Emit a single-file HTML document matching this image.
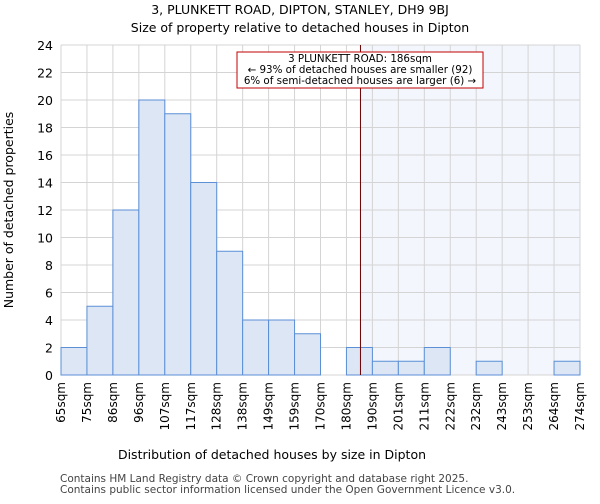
<!DOCTYPE html>
<html><head><meta charset="utf-8"><style>
body{margin:0;background:#fff;font-family:"DejaVu Sans","Liberation Sans",sans-serif}
</style></head><body>
<svg id="c" width="600" height="500" xmlns="http://www.w3.org/2000/svg" font-family="DejaVu Sans, Liberation Sans, sans-serif">
<text x="300" y="14" text-anchor="middle" font-size="12.5">3, PLUNKETT ROAD, DIPTON, STANLEY, DH9 9BJ</text>
<text x="300" y="32" text-anchor="middle" font-size="12.5">Size of property relative to detached houses in Dipton</text>
<g id="plot"></g>
<text x="272" y="459" text-anchor="middle" font-size="12.5">Distribution of detached houses by size in Dipton</text>
<text transform="translate(13,210) rotate(-90)" text-anchor="middle" font-size="12.5">Number of detached properties</text>
<text x="60" y="482" font-size="10.5" fill="#444">Contains HM Land Registry data © Crown copyright and database right 2025.</text>
<text x="60" y="493" font-size="10.5" fill="#444">Contains public sector information licensed under the Open Government Licence v3.0.</text>
</svg>
<script>
const categories=["65sqm","75sqm","86sqm","96sqm","107sqm","117sqm","128sqm","138sqm","149sqm","159sqm","170sqm","180sqm","190sqm","201sqm","211sqm","222sqm","232sqm","243sqm","253sqm","264sqm","274sqm"];
const counts=[2,5,12,20,19,14,9,4,4,3,0,2,1,1,2,0,1,0,0,1];
const yTicks=[0,2,4,6,8,10,12,14,16,18,20,22,24];
const markerBin=11.54;
const NS="http://www.w3.org/2000/svg";
const g=document.getElementById('plot');
const L=61,R=580,T=45,B=375,yMax=24;
const n=counts.length, bw=(R-L)/n;
const x=i=>L+i*bw, y=v=>B-(v/yMax)*(B-T);
function mk(t,a,p){const e=document.createElementNS(NS,t);for(const k in a)e.setAttribute(k,a[k]);(p||g).appendChild(e);return e;}
const mx=x(markerBin);
let sh=mk('rect',{x:mx,y:T,width:R-mx,height:B-T,fill:'#f3f6fd'});


for(let i=0;i<=n;i++){mk('line',{x1:x(i),x2:x(i),y1:T,y2:B,stroke:'#d4d4d4','stroke-width':1});}
yTicks.forEach(v=>{mk('line',{x1:L,x2:R,y1:y(v),y2:y(v),stroke:'#d4d4d4','stroke-width':1});
const t=mk('text',{x:L-8,y:y(v)+5,'text-anchor':'end','font-size':12.5});t.textContent=v;

});
counts.forEach((c,i)=>{if(c<=0)return;const r=mk('rect',{x:x(i),y:y(c),width:bw,height:B-y(c),fill:'#dce6f4',stroke:'#5b8fd6','stroke-width':1});

});
categories.forEach((c,i)=>{const t=mk('text',{transform:`translate(${x(i)+4},382) rotate(-90)`,'text-anchor':'end','font-size':12});t.textContent=c;

});
let ml=mk('line',{x1:mx,x2:mx,y1:T,y2:B,stroke:'#6a0000','stroke-width':1});


let bx=mk('rect',{x:237,y:52,width:246,height:36,fill:'#fff',stroke:'#c00000','stroke-width':1});


["3 PLUNKETT ROAD: 186sqm","← 93% of detached houses are smaller (92)","6% of semi-detached houses are larger (6) →"].forEach((s,i)=>{const t=mk('text',{x:360,y:62+i*11,'text-anchor':'middle','font-size':10.3});t.textContent=s;

});
</script>
</body></html>
